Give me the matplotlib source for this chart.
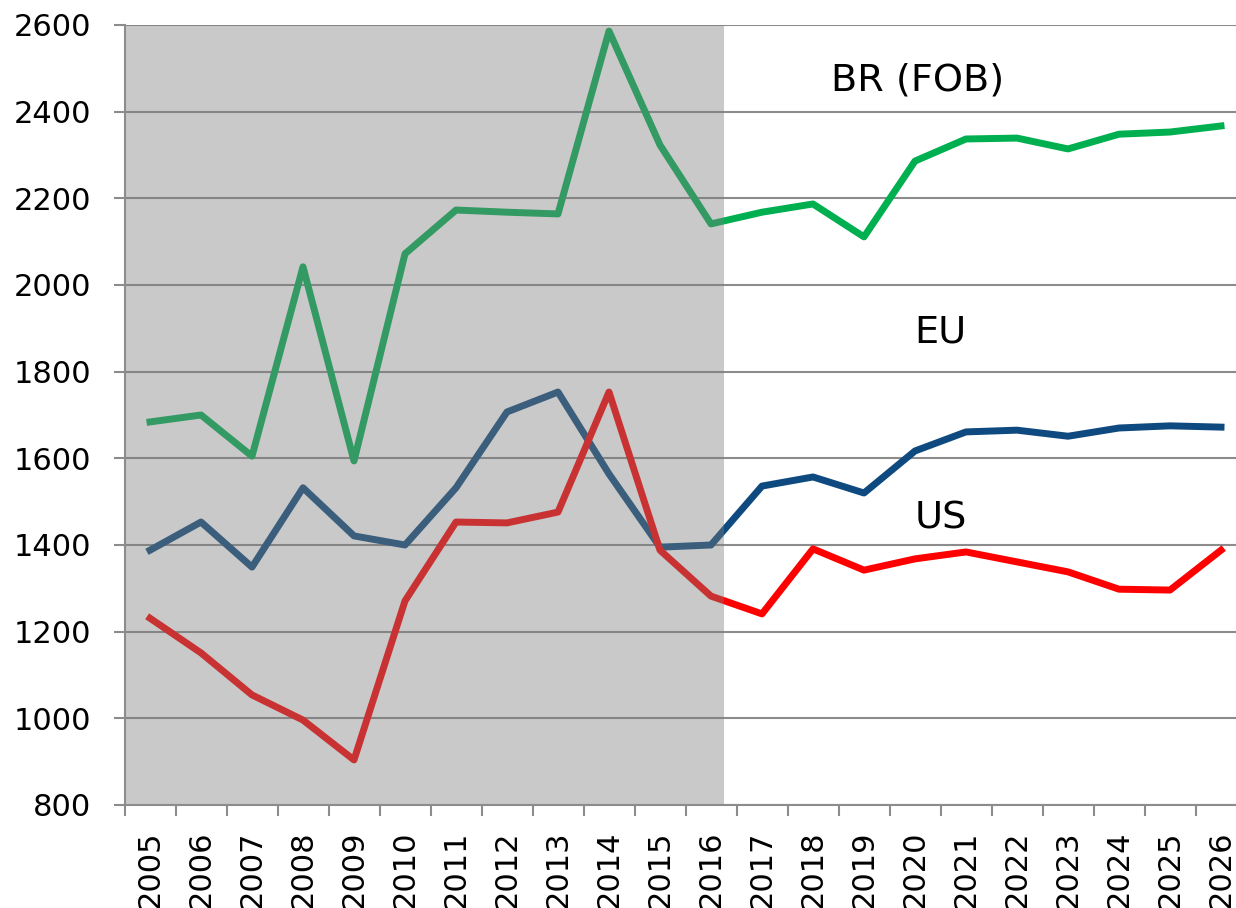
import matplotlib
matplotlib.use("Agg")
import matplotlib.pyplot as plt
import numpy as np

years = [str(y) for y in range(2005, 2027)]
br_fob = [1684, 1700, 1605, 2042, 1594, 2072, 2173, 2168, 2164, 2586, 2323, 2141,
          2168, 2187, 2111, 2286, 2337, 2339, 2314, 2348, 2353, 2367]
eu = [1388, 1453, 1349, 1532, 1421, 1400, 1532, 1707, 1753, 1564, 1395, 1400,
      1536, 1557, 1520, 1617, 1661, 1665, 1651, 1670, 1675, 1672]
us = [1231, 1151, 1054, 996, 904, 1271, 1453, 1451, 1476, 1753, 1388, 1282,
      1241, 1391, 1342, 1368, 1384, 1361, 1338, 1298, 1296, 1388]
yticks = [800, 1000, 1200, 1400, 1600, 1800, 2000, 2200, 2400, 2600]
series_labels = ["BR (FOB)", "EU", "US"]

plt.rcParams['font.family'] = ['DejaVu Sans']

fig = plt.figure(figsize=(12.36, 9.08), dpi=100)
ax = fig.add_axes([124.5 / 1236, 1 - 805 / 908, 1 - 124.5 / 1236, (805 - 25) / 908])

x = np.arange(len(years))
grid_c = '#8c8c8c'

for yv in yticks:
    ax.axhline(yv, color=grid_c, lw=1.5, zorder=0.5)

ax.plot(x, br_fob, color='#00b050', lw=5, zorder=2, solid_joinstyle='round')
ax.plot(x, eu, color='#0e4a7f', lw=5, zorder=2, solid_joinstyle='round')
ax.plot(x, us, color='#ff0000', lw=5, zorder=2, solid_joinstyle='round')

# historical shading overlay
ax.axvspan(-0.5, 11.25, color=(124/255, 124/255, 124/255), alpha=0.41, lw=0, zorder=3)

ax.set_yticks(yticks)
ax.set_yticklabels([str(v) for v in yticks], fontsize=22)
ax.set_xticks(x)
ax.set_xticklabels(years, rotation=90, fontsize=22)
ax.set_xticks(np.arange(-0.5, len(years) - 1, 1), minor=True)

ax.set_xlim(-0.5, (1236 - 124.5) / 51 - 0.5)
ax.set_ylim(800, 2600)

ax.tick_params(axis='x', which='major', length=0, pad=18)
ax.tick_params(axis='x', which='minor', length=8, width=1.5, color=grid_c, direction='out')
ax.tick_params(axis='y', length=8, width=1.5, color=grid_c, direction='out', pad=16)

for s in ['top', 'right']:
    ax.spines[s].set_visible(False)
for s in ['left', 'bottom']:
    ax.spines[s].set_color(grid_c)
    ax.spines[s].set_linewidth(1.5)
    ax.spines[s].set_zorder(4)

ax.text(15.06, 2473, series_labels[0], fontsize=27.5, ha='center', va='center', zorder=5)
ax.text(15.5, 1891, series_labels[1], fontsize=27.5, ha='center', va='center', zorder=5)
ax.text(15.5, 1462, series_labels[2], fontsize=27.5, ha='center', va='center', zorder=5)

fig.savefig('out.png', dpi=100)
